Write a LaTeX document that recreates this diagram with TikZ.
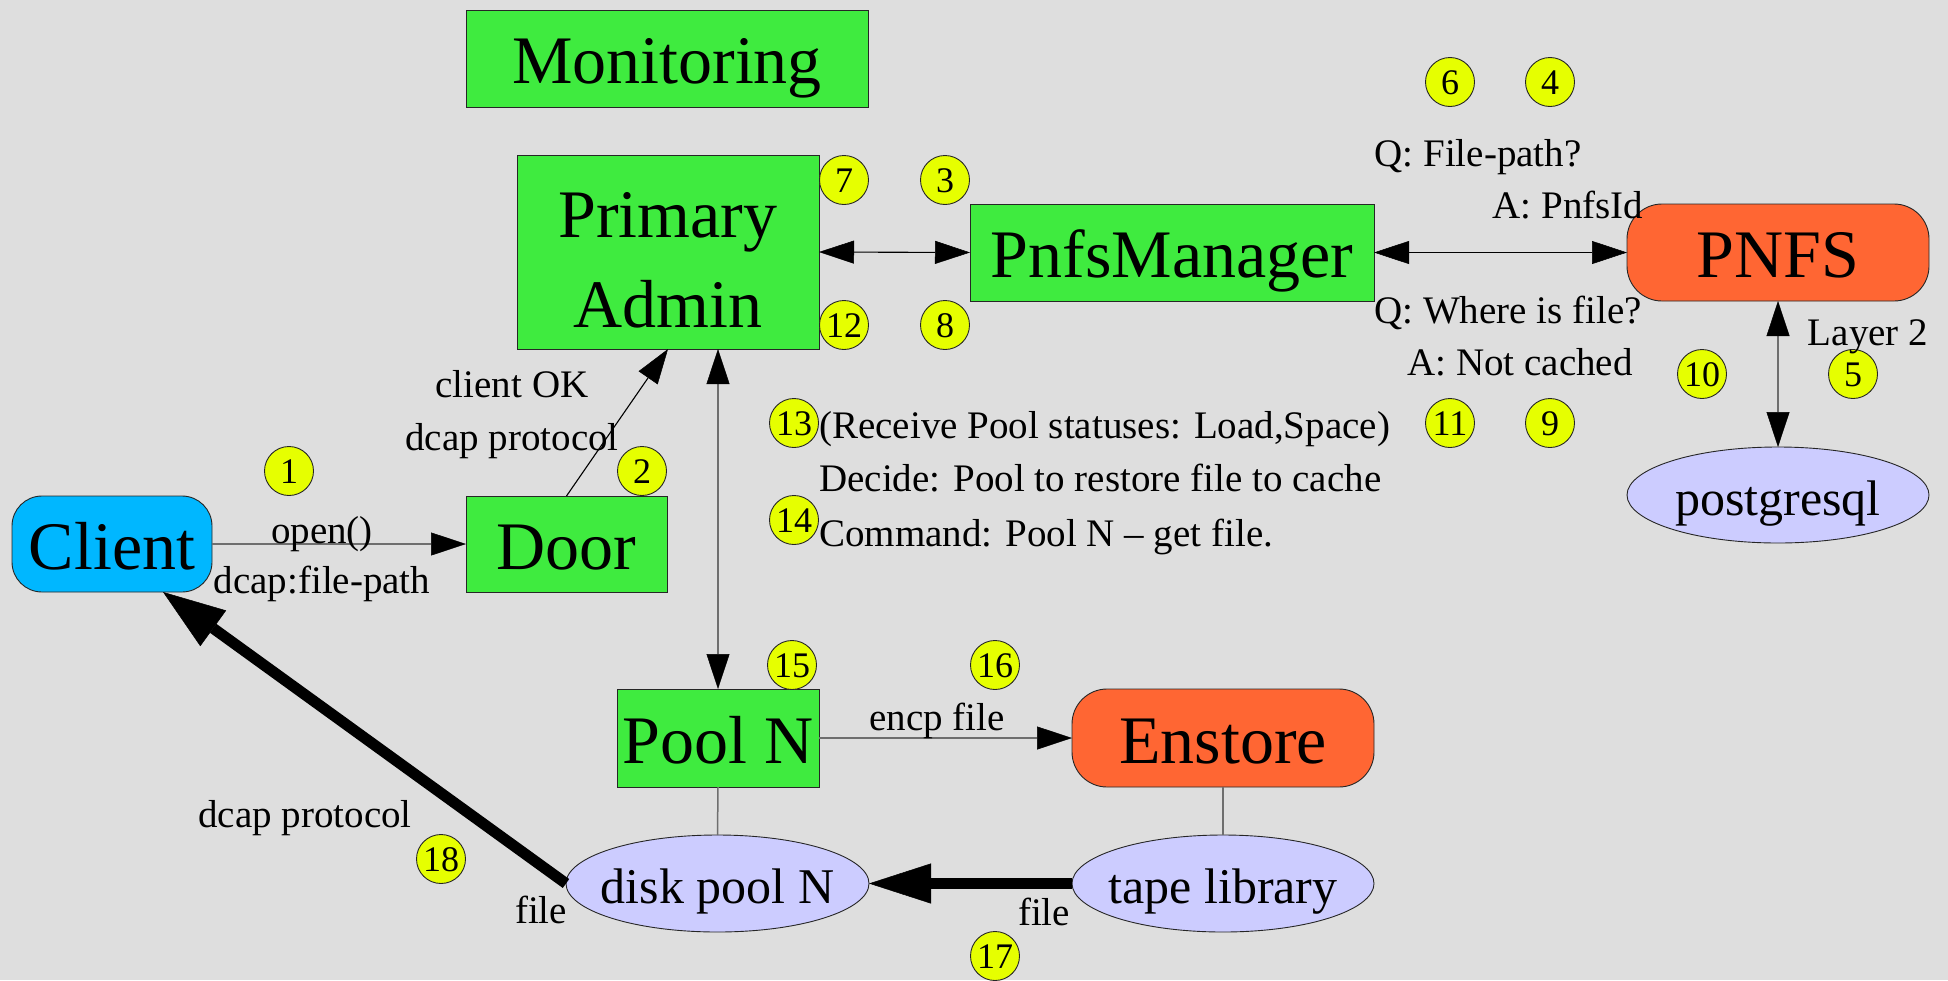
\documentclass[tikz,border=0pt]{standalone}
\usepackage{fontspec}
\setmainfont{Liberation Serif}
\usetikzlibrary{arrows.meta,shapes.geometric}
\definecolor{bg}{RGB}{222,222,222}
\definecolor{boxgreen}{RGB}{63,235,63}
\definecolor{orng}{RGB}{255,102,51}
\definecolor{cyanbox}{RGB}{0,183,255}
\definecolor{lav}{RGB}{204,204,255}
\definecolor{yel}{RGB}{230,255,0}
\definecolor{lgray}{RGB}{110,110,110}
\tikzset{
  basenode/.style={inner sep=0pt, outer sep=0pt, line width=0.9pt, draw=black!85},
  bigfont/.style={font=\fontsize{68}{90}\selectfont},
  gbox/.style={basenode, rectangle, fill=boxgreen, bigfont, text height=50pt, text depth=0pt},
  rbox/.style={basenode, rectangle, rounded corners=35pt, fill=orng, bigfont, text height=50pt, text depth=0pt},
  cbox/.style={basenode, rectangle, rounded corners=30pt, fill=cyanbox, bigfont, text height=50pt, text depth=0pt},
  ell/.style={basenode, ellipse, fill=lav, font=\fontsize{50}{60}\selectfont, text height=40pt, text depth=0pt},
  num/.style={basenode, circle, fill=yel, minimum size=49pt, font=\fontsize{36}{36}\selectfont, text height=25pt, text depth=0pt},
  lbl/.style={inner sep=0pt, anchor=base, font=\fontsize{39}{46}\selectfont},
  lblw/.style={lbl, anchor=base west},
  thinline/.style={line width=1.5pt, draw=lgray},
  blackline/.style={line width=1.1pt, draw=black},
  >={Triangle[length=35pt,width=23pt,color=black,line width=0.5pt]}
}
\begin{document}
\begin{tikzpicture}[x=1pt,y=-1pt]
\fill[bg] (0,0) rectangle (1948,980);
\useasboundingbox (0,0) rectangle (1948,980);

% main nodes
\node[gbox, minimum width=402pt, minimum height=97pt] (mon) at (667,58.5) {Monitoring};
\node[basenode, rectangle, fill=boxgreen, bigfont, align=center, text height=150pt, text depth=0pt, minimum width=302pt, minimum height=194pt] (adm) at (668,252) {Primary\\Admin};
\node[gbox, minimum width=404pt, minimum height=97pt] (pm) at (1172,252.5) {PnfsManager};
\node[rbox, minimum width=302pt, minimum height=97pt] (pnfs) at (1778,252.5) {PNFS};
\node[ell, minimum width=302pt, minimum height=96pt] (pg) at (1778,495) {\makebox[0pt]{postgresql}};
\node[cbox, minimum width=200pt, minimum height=96pt] (client) at (112,544) {Client};
\node[gbox, minimum width=201pt, minimum height=96pt] (door) at (566.5,544) {Door};
\node[gbox, minimum width=202pt, minimum height=98pt] (pool) at (718,738) {Pool N};
\node[ell, minimum width=303pt, minimum height=97pt] (disk) at (717.5,883.5) {\makebox[0pt]{disk pool N}};
\node[rbox, minimum width=302pt, minimum height=98pt] (enstore) at (1223,738) {Enstore};
\node[ell, minimum width=302pt, minimum height=97pt] (tape) at (1223,883.5) {\makebox[0pt]{tape library}};

% connectors
\draw[thinline,->] (client.east) -- (door.west);
\draw[blackline,->] (door.north) -- (adm.south);
\draw[blackline,<->] (adm.east) -- (pm.west);
\draw[blackline,<->] (pm.east) -- (pnfs.west);
\draw[thinline,<->] (pnfs.south) -- (pg.north);
\draw[thinline,<->] (adm.south -| pool.north) -- (pool.north);
\draw[thinline,->] (pool.east) -- (enstore.west);
\draw[thinline] (pool.south) -- (disk.north);
\draw[thinline] (enstore.south) -- (tape.north);
\draw[line width=11pt, -{Triangle[length=62pt,width=40pt,color=black,line width=0.5pt]}] (tape.west) -- (disk.east);
\draw[line width=11pt, -{Triangle[length=62pt,width=44pt,color=black,line width=0.5pt]}] (disk.west) -- ([xshift=51pt]client.south);

% numbered markers
\node[num] (n1) at (289,471) {1};
\node[num] (n2) at (642,471) {2};
\node[num] (n3) at (945,180) {3};
\node[num] (n4) at (1550,82) {4};
\node[num] (n5) at (1853,374) {5};
\node[num] (n6) at (1450,82) {6};
\node[num] (n7) at (844,180) {7};
\node[num] (n8) at (945,325) {8};
\node[num] (n9) at (1550,423) {9};
\node[num] (n10) at (1702,374) {10};
\node[num] (n11) at (1450,423) {11};
\node[num] (n12) at (844,325) {12};
\node[num] (n13) at (794,423) {13};
\node[num] (n14) at (794,520) {14};
\node[num] (n15) at (792,665) {15};
\node[num] (n16) at (995,665) {16};
\node[num] (n17) at (995,956) {17};
\node[num] (n18) at (441,859) {18};

% labels
\node[lbl] (l1) at (512,397) {client OK};
\node[lbl] (l2) at (512,450) {dcap protocol};
\node[lbl] (l3) at (322,543) {open()};
\node[lbl] (l4) at (322,593) {dcap:file-path};
\node[lbl] (l5) at (1478,166) {Q: File-path?};
\node[lbl] (l6) at (1568,218) {A: PnfsId};
\node[lbl] (l7) at (1508,323) {Q: Where is file?};
\node[lbl] (l8) at (1520,375) {A: Not cached};
\node[lbl] (l9) at (1868,345) {Layer 2};
\node[lblw] (l10) at (819,438) {(Receive Pool statuses: Load,Space)};
\node[lblw] (l11) at (819,491) {Decide: Pool to restore file to cache};
\node[lblw] (l12) at (819,546) {Command: Pool N -- get file.};
\node[lbl] (l13) at (937,730) {encp file};
\node[lbl] (l14) at (305,827) {dcap protocol};
\node[lbl] (l15) at (541,923) {file};
\node[lbl] (l16) at (1044,925) {file};
\end{tikzpicture}
\end{document}
